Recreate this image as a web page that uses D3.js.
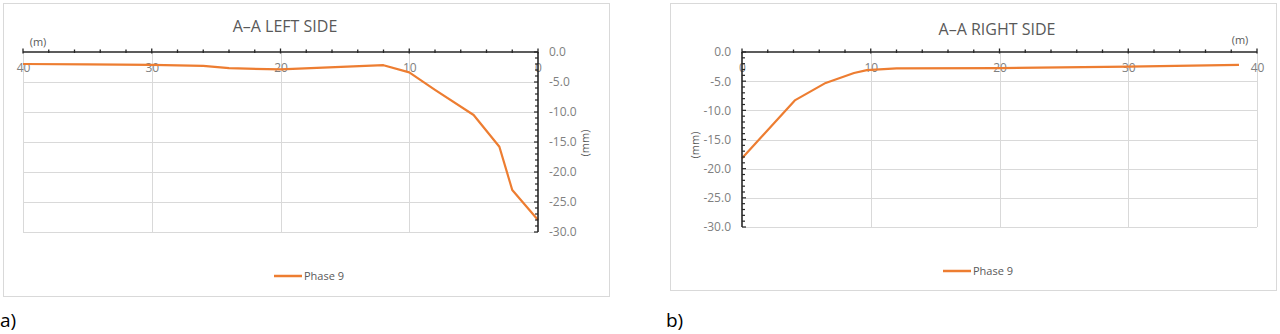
<!DOCTYPE html>
<html>
<head>
<meta charset="utf-8">
<script src="https://cdn.jsdelivr.net/npm/d3@7"></script>
<style>
  html, body { margin: 0; padding: 0; background: #ffffff; }
  svg { display: block; }
  text { font-family: "Open Sans", "Noto Sans", sans-serif; }
</style>
</head>
<body>
<svg id="chart" width="1280" height="334"></svg>
<script>
// ---- data ----
const leftTitle = "A\u2013A LEFT SIDE";
const rightTitle = "A\u2013A RIGHT SIDE";
const seriesName = "Phase 9";
const xTicks = [0, 10, 20, 30, 40];
const yTicks = [0, -5, -10, -15, -20, -25, -30];
const leftDist = [40, 35, 30, 26, 24, 20, 12, 10, 8, 5, 3, 2, 0];
const leftDisp = [-2.0, -2.05, -2.15, -2.3, -2.7, -2.9, -2.2, -3.4, -6.3, -10.5, -15.8, -23.0, -28.0];
const rightDist = [0, 4.1, 6.5, 8.7, 9.7, 12, 20, 30, 38.6];
const rightDisp = [-18.2, -8.3, -5.3, -3.6, -3.1, -2.8, -2.75, -2.5, -2.2];

const svg = d3.select("#chart");
const ORANGE = "#ED7D31";
const GRID = "#d9d9d9";
const LABEL = "#808080";

function drawChart(o) {
  const g = svg.append("g");
  // frame
  g.append("rect").attr("x", o.frame[0] + 0.5).attr("y", o.frame[1] + 0.5)
    .attr("width", o.frame[2] - o.frame[0]).attr("height", o.frame[3] - o.frame[1])
    .attr("fill", "#fff").attr("stroke", "#d9d9d9").attr("stroke-width", 1);

  const x = d3.scaleLinear().domain(o.xDomain).range(o.xRange);
  const y = d3.scaleLinear().domain([0, -30]).range(o.yRange);
  const x0 = Math.min(...o.xRange), x1 = Math.max(...o.xRange);

  // gridlines
  g.append("g").selectAll("line").data(yTicks.filter(d => d !== 0)).join("line")
    .attr("x1", x0).attr("x2", x1)
    .attr("y1", d => Math.round(y(d)) + 0.5).attr("y2", d => Math.round(y(d)) + 0.5)
    .attr("stroke", GRID).attr("stroke-width", 1);
  g.append("g").selectAll("line").data(xTicks.filter(d => d !== 0)).join("line")
    .attr("x1", d => Math.round(x(d)) + 0.5).attr("x2", d => Math.round(x(d)) + 0.5)
    .attr("y1", y(0)).attr("y2", y(-30))
    .attr("stroke", GRID).attr("stroke-width", 1);

  // x axis labels (below axis, over plot)
  const xAx = d3.axisBottom(x).tickValues(xTicks).tickSize(0).tickPadding(11).tickFormat(d3.format("d"));
  const xg = g.append("g").attr("transform", `translate(0,${y(0)})`).call(xAx);
  xg.select(".domain").remove();
  xg.selectAll("text").attr("fill", LABEL).style("font-size", "12px").style("font-family", "'Open Sans', sans-serif");

  // line
  const pts = o.xs.map((d, i) => [d, o.ys[i]]);
  g.append("path").datum(pts)
    .attr("d", d3.line().x(d => x(d[0])).y(d => y(d[1])))
    .attr("fill", "none").attr("stroke", ORANGE).attr("stroke-width", 2.2)
    .attr("stroke-linejoin", "round");

  // x axis line + ticks
  const minorX = d3.range(0, 41, 2);
  g.append("line").attr("x1", x0).attr("x2", x1).attr("y1", y(0)).attr("y2", y(0))
    .attr("stroke", "#262626").attr("stroke-width", 1.5);
  g.append("g").selectAll("line").data(minorX).join("line")
    .attr("x1", d => x(d)).attr("x2", d => x(d))
    .attr("y1", d => y(0) - (d % 10 === 0 ? 3.5 : 2.5)).attr("y2", d => y(0) + (d % 10 === 0 ? 1.5 : 1))
    .attr("stroke", "#262626").attr("stroke-width", 1.3);

  // y axis line + ticks
  const ax = x(0);
  g.append("line").attr("x1", ax).attr("x2", ax).attr("y1", y(0)).attr("y2", y(-30))
    .attr("stroke", "#262626").attr("stroke-width", 1.6);
  const minorY = d3.range(0, -31, -1);
  g.append("g").selectAll("line").data(minorY).join("line")
    .attr("x1", ax).attr("x2", d => ax + o.tickDir * (d % 5 === 0 ? 4 : 3))
    .attr("y1", d => y(d)).attr("y2", d => y(d))
    .attr("stroke", "#262626").attr("stroke-width", 1.2);

  // y axis labels
  const yAx = (o.labelSide === "right" ? d3.axisRight(y) : d3.axisLeft(y))
    .tickValues(yTicks).tickSize(0).tickPadding(o.labelPad).tickFormat(d => d.toFixed(1));
  const yg = g.append("g").attr("transform", `translate(${ax},0)`).call(yAx);
  yg.select(".domain").remove();
  yg.selectAll("text").attr("fill", LABEL).style("font-size", "12px").style("font-family", "'Open Sans', sans-serif");

  // title
  g.append("text").attr("x", o.titleX).attr("y", o.titleY).attr("text-anchor", "middle")
    .attr("fill", "#595959").style("font-size", "16px").text(o.title);
  // unit labels
  g.append("text").attr("x", o.mX).attr("y", o.mY).attr("text-anchor", "middle")
    .attr("fill", "#595959").style("font-size", "11px").text("(m)");
  g.append("text").attr("transform", `translate(${o.mmX},${o.mmY}) rotate(-90)`).attr("text-anchor", "middle")
    .attr("fill", "#595959").style("font-size", "11px").text("(mm)");

  // legend
  g.append("line").attr("x1", o.legX).attr("x2", o.legX + 28).attr("y1", o.legY).attr("y2", o.legY)
    .attr("stroke", ORANGE).attr("stroke-width", 2.5);
  g.append("text").attr("x", o.legX + 30).attr("y", o.legY + 4)
    .attr("fill", "#595959").style("font-size", "11px").text(seriesName);

  // panel letter
  g.append("text").attr("x", o.panelX).attr("y", 327).attr("fill", "#000")
    .style("font-size", "19px").style("font-family", "'Open Sans', sans-serif").text(o.panel);
}

drawChart({
  frame: [3, 3, 609, 296],
  xDomain: [40, 0], xRange: [23, 538], yRange: [52, 232],
  xs: leftDist, ys: leftDisp,
  tickDir: -1, labelSide: "right", labelPad: 11,
  title: leftTitle, titleX: 285, titleY: 32,
  mX: 38, mY: 46, mmX: 589, mmY: 143,
  legX: 274, legY: 276,
  panel: "a)", panelX: 0
});
drawChart({
  frame: [670, 3, 1276, 290],
  xDomain: [0, 40], xRange: [742, 1257], yRange: [52, 227],
  xs: rightDist, ys: rightDisp,
  tickDir: 1, labelSide: "left", labelPad: 11,
  title: rightTitle, titleX: 997, titleY: 35,
  mX: 1240, mY: 44, mmX: 699, mmY: 145,
  legX: 943, legY: 271,
  panel: "b)", panelX: 666
});
</script>
</body>
</html>
